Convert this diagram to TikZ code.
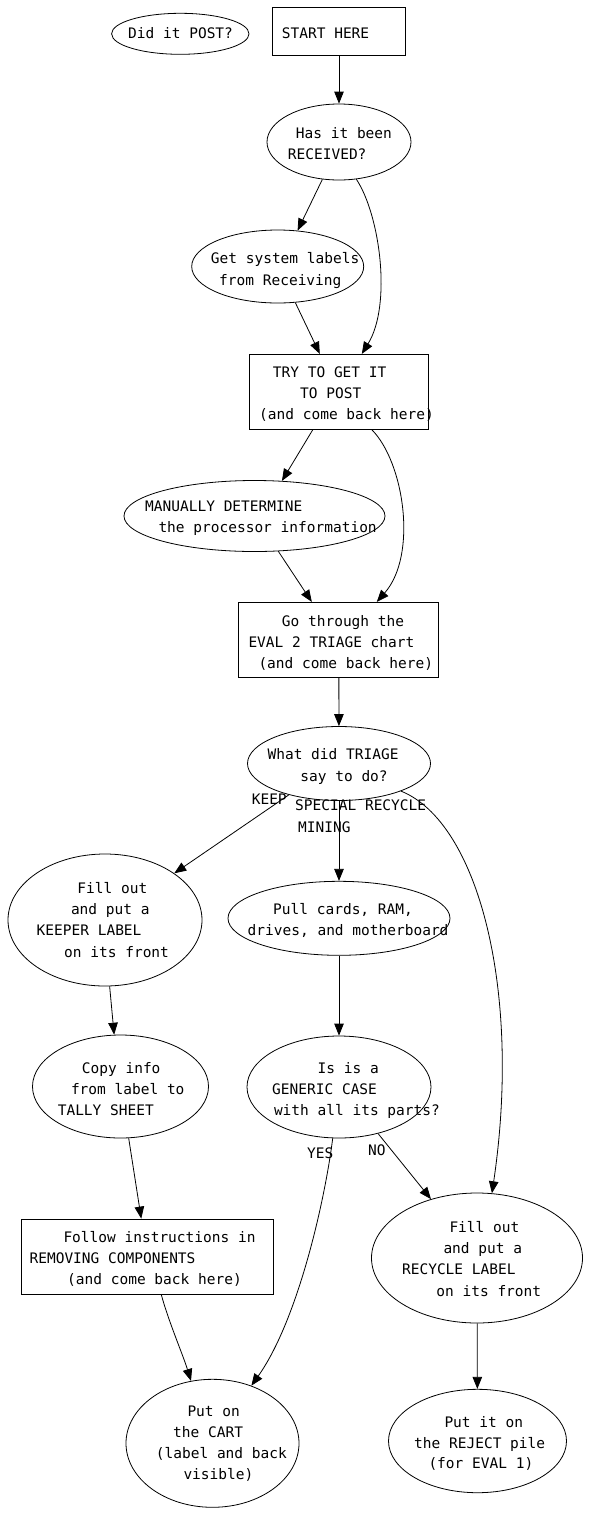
\documentclass[tikz,border=0pt]{standalone}
\usepackage{fontspec}
\newfontfamily\gvfont{DejaVu Sans Mono}
\usetikzlibrary{shapes.geometric,arrows.meta,calc}
\newcommand\gl[4]{\node[txt] (#1) at (#2,#3+5.3) {#4};}
\begin{document}
\begin{tikzpicture}[x=1pt,y=-1pt,
  ell/.style={draw,ellipse,inner sep=0pt,line width=0.8pt},
  box/.style={draw,rectangle,inner sep=0pt,line width=0.8pt},
  txt/.style={anchor=base west,inner sep=0pt,font=\gvfont\fontsize{14.5}{17}\selectfont},
  edge/.style={line width=0.8pt,-{Triangle[length=12pt,width=9.5pt]}},
]
\useasboundingbox[fill=white] (0,0) rectangle (590,1516);

% shapes
\node[ell,minimum width=137.4pt,minimum height=41pt] (post) at (180.3,33.8) {};
\node[box,minimum width=133.4pt,minimum height=47.7pt] (start) at (339,31.2) {};
\node[ell,minimum width=144pt,minimum height=76pt] (has) at (339,142) {};
\node[ell,minimum width=172pt,minimum height=73pt] (get) at (277.7,266.5) {};
\node[box,minimum width=179pt,minimum height=75pt] (try) at (338.8,391.8) {};
\node[ell,minimum width=261pt,minimum height=71pt] (man) at (254.5,516) {};
\node[box,minimum width=200pt,minimum height=75pt] (go) at (338.8,639.8) {};
\node[ell,minimum width=183pt,minimum height=74pt] (what) at (339,763.5) {};
\node[ell,minimum width=194pt,minimum height=132pt] (keep) at (105,920) {};
\node[ell,minimum width=222pt,minimum height=74pt] (pull) at (339,918.3) {};
\node[ell,minimum width=176pt,minimum height=103pt] (copy) at (120.5,1086.5) {};
\node[ell,minimum width=184pt,minimum height=102pt] (isis) at (339,1087) {};
\node[box,minimum width=251.5pt,minimum height=75pt] (follow) at (147.25,1256.5) {};
\node[ell,minimum width=211pt,minimum height=130pt] (recycle) at (477,1258) {};
\node[ell,minimum width=173pt,minimum height=128pt] (cart) at (212.5,1443.3) {};
\node[ell,minimum width=178pt,minimum height=103.4pt] (reject) at (477.5,1441) {};

% texts
\gl{post1}{128}{33}{Did it POST?}
\gl{start1}{281.7}{33.2}{START HERE}
\gl{has1}{295.7}{133.3}{Has it been}
\gl{has2}{287.7}{154.5}{RECEIVED?}
\gl{get1}{210.7}{258.3}{Get system labels}
\gl{get2}{219}{280}{from Receiving}
\gl{try1}{272.7}{372.3}{TRY TO GET IT}
\gl{try2}{300}{393.3}{TO POST}
\gl{try3}{259}{414.3}{(and come back here)}
\gl{man1}{145}{506}{MANUALLY DETERMINE}
\gl{man2}{158.3}{527.5}{the processor information}
\gl{go1}{281.7}{620.7}{Go through the}
\gl{go2}{248.3}{641.7}{EVAL 2 TRIAGE chart}
\gl{go3}{258.3}{662.7}{(and come back here)}
\gl{what1}{267.4}{754}{What did TRIAGE}
\gl{what2}{300.2}{776}{say to do?}
\gl{keep1}{77.2}{888}{Fill out}
\gl{keep2}{70.8}{909}{and put a}
\gl{keep3}{36.5}{930.5}{KEEPER LABEL}
\gl{keep4}{64}{952}{on its front}
\gl{pull1}{273}{909}{Pull cards, RAM,}
\gl{pull2}{247.5}{930.5}{drives, and motherboard}
\gl{copy1}{81.7}{1068.3}{Copy info}
\gl{copy2}{70.8}{1089.3}{from label to}
\gl{copy3}{57.6}{1110.3}{TALLY SHEET}
\gl{isis1}{317.5}{1068.3}{Is is a}
\gl{isis2}{272}{1089.3}{GENERIC CASE}
\gl{isis3}{273.8}{1110.3}{with all its parts?}
\gl{fol1}{63.3}{1237.3}{Follow instructions in}
\gl{fol2}{29.4}{1258.3}{REMOVING COMPONENTS}
\gl{fol3}{67}{1279.5}{(and come back here)}
\gl{rec1}{449.3}{1226.7}{Fill out}
\gl{rec2}{443.3}{1248}{and put a}
\gl{rec3}{401.9}{1269.3}{RECYCLE LABEL}
\gl{rec4}{436.2}{1290.7}{on its front}
\gl{cart1}{187.3}{1410.7}{Put on}
\gl{cart2}{173}{1432}{the CART}
\gl{cart3}{155.7}{1453.3}{(label and back}
\gl{cart4}{183.3}{1474.5}{visible)}
\gl{rej1}{444.3}{1421.7}{Put it on}
\gl{rej2}{414}{1442.7}{the REJECT pile}
\gl{rej3}{428.3}{1463.5}{(for EVAL 1)}

% edge labels
\gl{lkeep}{251.6}{799}{KEEP}
\gl{lspec}{295}{805}{SPECIAL RECYCLE}
\gl{lmin}{298}{826.7}{MINING}
\gl{lyes}{307}{1152.7}{YES}
\gl{lno}{368}{1150}{NO}

% edges
\draw[edge] (start) -- (has);
\draw[edge] (has.246) -- (get.61);
\draw[edge] (has.295) .. controls (380,215) and (392,305) .. ([xshift=23pt]try.north);
\draw[edge] (get.296) -- ([xshift=-19pt]try.north);
\draw[edge] ([xshift=-26pt]try.south) -- (man.52);
\draw[edge] ([xshift=33pt]try.south) .. controls (404,462) and (418,555) .. ([xshift=38pt]go.north);
\draw[edge] (man.304) -- ([xshift=-27pt]go.north);
\draw[edge] (go) -- (what);
\draw[edge] (what.212) -- (keep.34);
\draw[edge] (what) -- (pull);
\draw[edge] (what.336) .. controls (478,822) and (522,990) .. (recycle.77);
\draw[edge] (keep.274) -- (copy.97);
\draw[edge] (pull) -- (isis);
\draw[edge] (isis.263) .. controls (325,1200) and (298,1320) .. (cart.56);
\draw[edge] (isis.310) -- (recycle.128);
\draw[edge] (copy.279) -- ([xshift=-6pt]follow.north);
\draw[edge] ([xshift=14pt]follow.south) .. controls (168,1320) and (183,1355) .. (cart.109);
\draw[edge] (recycle) -- (reject);
\end{tikzpicture}
\end{document}
